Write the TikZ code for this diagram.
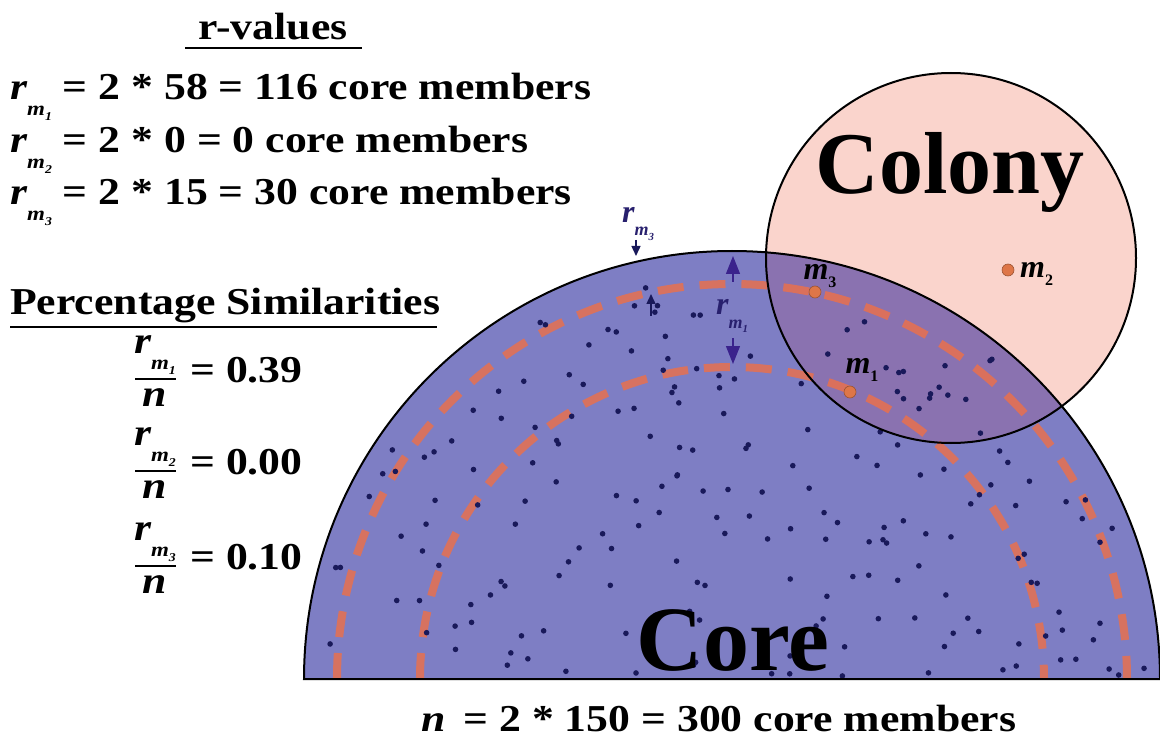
\documentclass[tikz,border=0pt]{standalone}
\usepackage{fontspec}
\setmainfont{Liberation Serif}
\newfontfamily\widefont[FakeStretch=1.15]{Liberation Serif}
\usetikzlibrary{arrows.meta}
\definecolor{coreblue}{RGB}{126,126,196}
\definecolor{colonypink}{RGB}{250,212,204}
\definecolor{overlapc}{RGB}{138,114,176}
\definecolor{dashorange}{RGB}{238,112,72}
\definecolor{dotnavy}{RGB}{25,25,90}
\definecolor{arrowindigo}{RGB}{58,34,140}
\definecolor{labnavy}{RGB}{40,32,110}
\definecolor{morange}{RGB}{222,118,72}
\newcommand{\rsubm}[2]{{\itshape r}\raisebox{-0.42em}{\fontsize{#2}{#2}\selectfont\itshape m\raisebox{-0.25em}{\fontsize{0.6\dimexpr#2pt\relax}{1pt}\selectfont #1}}}
\newcommand{\msub}[1]{{\itshape m}\raisebox{-0.25em}{\fontsize{16}{16}\selectfont #1}}
\tikzset{
  txt/.style={inner sep=0pt, font=\widefont\fontsize{38}{44}\selectfont\bfseries},
  big/.style={inner sep=0pt, font=\fontsize{92}{100}\selectfont\bfseries},
  bigc/.style={inner sep=0pt, font=\fontsize{88}{96}\selectfont\bfseries},
  mlab/.style={inner sep=0pt, font=\fontsize{32}{34}\selectfont\bfseries},
  rlab/.style={inner sep=0pt, text=labnavy, font=\fontsize{32}{34}\selectfont\bfseries},
  outline/.style={draw=black, line width=2pt},
  dashring/.style={draw=dashorange, line width=8pt, dash pattern=on 26pt off 16pt, opacity=0.8},
  darr/.style={draw=arrowindigo, line width=1.4pt, -{Triangle[width=14pt,length=18pt]}},
  sarr/.style={draw=dotnavy, line width=1.4pt, -{Triangle[width=9pt,length=10pt]}},
  mdot/.style={fill=morange, draw=morange!70!black, line width=0.6pt},
  uline/.style={draw=black, line width=2pt}
}
\begin{document}
\begin{tikzpicture}[x=1pt,y=-1pt]
\useasboundingbox (0,0) rectangle (1160,746);
\fill[white] (0,0) rectangle (1160,746);
\coordinate (C) at (732,679);
\coordinate (K) at (951,258);
% colony
\fill[colonypink] (K) circle (185);
% core
\fill[coreblue] (304,679) arc (180:360:428) -- cycle;
\begin{scope}
  \clip (304,679) arc (180:360:428) -- cycle;
  \fill[overlapc] (K) circle (185);
  \draw[dashring] (337,679) arc (180:360:395);
  \draw[dashring] (420,679) arc (180:360:312);
  \pgfmathsetseed{11}
  \foreach \i in {1,...,200}{
    \pgfmathsetmacro\ang{rnd*180}
    \pgfmathsetmacro\rad{sqrt(rnd)*405+8}
    \fill[dotnavy] ({732+\rad*cos(\ang)},{676-\rad*sin(\ang)}) circle (2.8);
  }
\end{scope}
\draw[outline] (304,679) arc (180:360:428) -- cycle;
\draw[outline] (K) circle (185);
% m points
\fill[mdot] (815,292) circle (6);
\fill[mdot] (850,392) circle (6);
\fill[mdot] (1008,270) circle (6);
\node[mlab] (m3) at (820,276) {\msub{3}};
\node[mlab] (m1) at (862,370) {\msub{1}};
\node[mlab, anchor=west] (m2) at (1020,274) {\msub{2}};
% r_m1 arrows
\coordinate (a1s) at (733,282);
\coordinate (a1e) at (733,256);
\coordinate (b1s) at (733,338);
\coordinate (b1e) at (733,364);
\draw[darr] (a1s) -- (a1e);
\draw[darr] (b1s) -- (b1e);
\node[rlab] (rm1) at (732,316) {\rsubm{1}{18}};
% r_m3 arrows
\coordinate (a3s) at (636,240);
\coordinate (a3e) at (636,256);
\coordinate (b3s) at (651,316);
\coordinate (b3e) at (651,294);
\draw[sarr] (a3s) -- (a3e);
\draw[sarr] (b3s) -- (b3e);
\node[rlab] (rm3) at (638,224) {\rsubm{3}{18}};
% big labels
\node[bigc] (colony) at (950,172) {Colony};
\node[big] (core) at (733,640) {Core};
% r-values
\node[txt, anchor=base] (rv) at (273,40) {r-values};
\coordinate (u1a) at (185,48);
\coordinate (u1b) at (362,48);
\draw[uline] (u1a) -- (u1b);
\node[txt, anchor=base west] (l1) at (10,100) {\rsubm{1}{20} = 2 * 58 = 116 core members};
\node[txt, anchor=base west] (l2) at (10,153) {\rsubm{2}{20} = 2 * 0 = 0 core members};
\node[txt, anchor=base west] (l3) at (10,205) {\rsubm{3}{20} = 2 * 15 = 30 core members};
% percentage similarities
\node[txt, anchor=base west] (ps) at (10,315) {Percentage Similarities};
\coordinate (u2a) at (10,327);
\coordinate (u2b) at (437,327);
\draw[uline] (u2a) -- (u2b);
% fractions
\foreach \nm/\yy/\val in {1/370/0.39, 2/462/0.00, 3/557/0.10}{
  \node[txt] (num\nm) at (155,\yy-15) {\rsubm{\nm}{20}};
  \coordinate (fa\nm) at (135,\yy+9);
  \coordinate (fb\nm) at (176,\yy+9);
  \draw[black, line width=1.4pt] (fa\nm) -- (fb\nm);
  \node[txt] (den\nm) at (155,\yy+28) {\itshape n};
  \node[txt, anchor=west] (val\nm) at (190,\yy) {= \val};
}
% bottom
\node[txt] (nline) at (719,718) {{\itshape n}\, = 2 * 150 = 300 core members};
\end{tikzpicture}
\end{document}
